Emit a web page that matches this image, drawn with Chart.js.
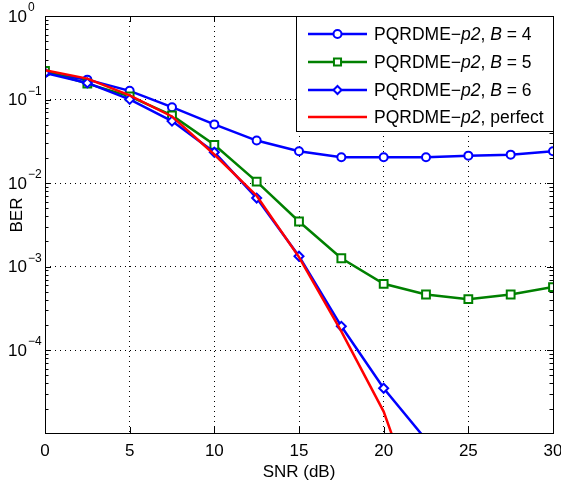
<!DOCTYPE html>
<html>
<head>
<meta charset="utf-8">
<script src="https://cdn.jsdelivr.net/npm/chart.js@4.4.1/dist/chart.umd.min.js"></script>
<style>
  html, body { margin: 0; padding: 0; background: #fff; }
  #wrap { width: 561px; height: 484px; }
</style>
</head>
<body>
<div id="wrap"><canvas id="myChart" width="561" height="484"></canvas></div>
<script>
// SNR axis values (dB)
let snr = [0, 2.5, 5, 7.5, 10, 12.5, 15, 17.5, 20, 22.5, 25, 27.5, 30];

// BER
let berB4 = [0.21, 0.173, 0.127, 0.081, 0.0504, 0.0323, 0.024, 0.0204, 0.0204, 0.0204, 0.0213, 0.0219, 0.024];
let berB5 = [0.22, 0.155, 0.109, 0.0646, 0.0287, 0.0104, 0.00347, 0.00126, 0.000623, 0.000464, 0.000408, 0.000464, 0.000569];
let berB6 = [0.208, 0.158, 0.1005, 0.0552, 0.0234, 0.00662, 0.00133, 0.000193, 0.000035, 0.0000085];
let berPerfect = [0.224, 0.178, 0.112, 0.0628, 0.022, 0.00706, 0.0013, 0.000168, 0.0000184, 0.0000007];

let labels = ['PQRDME\u2212p2, B = 4', 'PQRDME\u2212p2, B = 5', 'PQRDME\u2212p2, B = 6', 'PQRDME\u2212p2, perfect'];

let xTicks = [0, 5, 10, 15, 20, 25, 30];
let yTicks = [1, 0.1, 0.01, 0.001, 0.0001];
let yExp = ['0', '\u22121', '\u22122', '\u22123', '\u22124'];

let yMin = 1.02e-5, yMax = 1;
let FONT = '"Liberation Sans", Arial, Helvetica, sans-serif';

function pts(arr) {
    return arr.map((v, i) => ({ x: snr[i], y: v }));
}
function rad(r) {
    return c => (c.raw && c.raw.y < yMin) ? 0 : r;
}

// ticks, labels, box and legend drawn the matlab way
let matlabLook = {
    id: 'matlabLook',
    beforeDatasetsDraw(chart) {
        let ctx = chart.ctx, a = chart.chartArea;
        let xs = chart.scales.x, ys = chart.scales.y;
        ctx.save();
        ctx.strokeStyle = '#000';
        ctx.lineWidth = 1;
        ctx.beginPath();
        // minor y ticks
        for (let k = -5; k < 0; k++) {
            for (let m = 2; m <= 9; m++) {
                let v = m * Math.pow(10, k);
                if (v < yMin || v > yMax) continue;
                let py = Math.round(ys.getPixelForValue(v)) + 0.5;
                ctx.moveTo(a.left, py); ctx.lineTo(a.left + 3.5, py);
                ctx.moveTo(a.right, py); ctx.lineTo(a.right - 3.5, py);
            }
        }
        // major y ticks
        yTicks.forEach(v => {
            let py = Math.round(ys.getPixelForValue(v)) + 0.5;
            ctx.moveTo(a.left, py); ctx.lineTo(a.left + 6, py);
            ctx.moveTo(a.right, py); ctx.lineTo(a.right - 6, py);
        });
        // x ticks
        xTicks.forEach(v => {
            let px = Math.round(xs.getPixelForValue(v)) + 0.5;
            ctx.moveTo(px, a.bottom); ctx.lineTo(px, a.bottom - 6);
            ctx.moveTo(px, a.top); ctx.lineTo(px, a.top + 6);
        });
        ctx.stroke();
        ctx.restore();
    },
    afterDraw(chart) {
        let ctx = chart.ctx, a = chart.chartArea;
        let xs = chart.scales.x, ys = chart.scales.y;
        ctx.save();
        // axis box
        ctx.strokeStyle = '#000';
        ctx.lineWidth = 1;
        ctx.strokeRect(Math.round(a.left) + 0.5, Math.round(a.top) + 0.5,
            Math.round(a.right - a.left), Math.round(a.bottom - a.top));

        ctx.fillStyle = '#000';
        // x tick labels
        ctx.font = '17px ' + FONT;
        ctx.textAlign = 'center';
        ctx.textBaseline = 'middle';
        xTicks.forEach(v => ctx.fillText(String(v), xs.getPixelForValue(v), 451));
        ctx.fillText('SNR (dB)', (a.left + a.right) / 2, 472);

        // y tick labels 10^k
        yTicks.forEach((v, i) => {
            let py = ys.getPixelForValue(v);
            ctx.font = '17px ' + FONT;
            ctx.textAlign = 'right';
            ctx.fillText('10', 27, py + 1);
            ctx.font = '12px ' + FONT;
            ctx.textAlign = 'left';
            ctx.fillText(yExp[i], 28, py - 8);
        });

        // y title
        ctx.save();
        ctx.translate(17, 215);
        ctx.rotate(-Math.PI / 2);
        ctx.font = '17px ' + FONT;
        ctx.textAlign = 'center';
        ctx.fillText('BER', 0, 0);
        ctx.restore();

        // legend
        let lx = 296, ly = 16, lw = a.right - 296, lh = 115;
        ctx.fillStyle = '#fff';
        ctx.fillRect(lx, ly, lw, lh);
        ctx.strokeStyle = '#000';
        ctx.lineWidth = 1;
        ctx.strokeRect(lx + 0.5, ly + 0.5, lw, lh);
        let rows = [34, 62, 90, 117];
        chart.data.datasets.forEach((ds, i) => {
            let y = rows[i];
            ctx.strokeStyle = ds.borderColor;
            ctx.lineWidth = ds.borderWidth;
            ctx.beginPath();
            ctx.moveTo(308, y); ctx.lineTo(367, y);
            ctx.stroke();
            if (ds.pointStyle && ds.legendRadius) {
                ctx.fillStyle = '#fff';
                ctx.lineWidth = 2;
                Chart.helpers.drawPoint(ctx, {
                    pointStyle: ds.pointStyle, radius: ds.legendRadius, rotation: 0, borderWidth: 2
                }, 337.5, y);
            }
            // label with italic bits
            let parts = ds.label.split(/(p2|B)/);
            let x = 374;
            ctx.fillStyle = '#000';
            ctx.textAlign = 'left';
            ctx.textBaseline = 'middle';
            parts.forEach(p => {
                if (!p) return;
                let it = (p === 'p2' || p === 'B');
                ctx.font = (it ? 'italic ' : '') + '17.5px ' + FONT;
                ctx.fillText(p, x, y + 1);
                x += ctx.measureText(p).width;
            });
        });
        ctx.restore();
    }
};

let ctx = document.querySelector('#myChart').getContext('2d');
let myChart = new Chart(ctx, {
    type: 'line',
    data: {
        datasets: [{
            label: labels[0],
            data: pts(berB4),
            borderColor: '#0000ff',
            backgroundColor: '#ffffff',
            borderWidth: 2.5,
            pointStyle: 'circle',
            pointRadius: rad(4),
            pointBorderWidth: 2,
            legendRadius: 4,
            order: 3
        }, {
            label: labels[1],
            data: pts(berB5),
            borderColor: '#008000',
            backgroundColor: '#ffffff',
            borderWidth: 2.5,
            pointStyle: 'rect',
            pointRadius: rad(5.5),
            pointBorderWidth: 2,
            legendRadius: 5,
            order: 2
        }, {
            label: labels[2],
            data: pts(berB6),
            borderColor: '#0000ff',
            backgroundColor: '#ffffff',
            borderWidth: 2.5,
            pointStyle: 'rectRot',
            pointRadius: rad(4.5),
            pointBorderWidth: 2,
            legendRadius: 4,
            order: 1
        }, {
            label: labels[3],
            data: pts(berPerfect),
            borderColor: '#ff0000',
            backgroundColor: '#ff0000',
            borderWidth: 2.5,
            pointRadius: 0,
            order: 0
        }]
    },
    options: {
        responsive: false,
        animation: false,
        devicePixelRatio: 1,
        layout: { padding: { top: 16, right: 8, left: 0, bottom: 0 } },
        elements: { line: { tension: 0 } },
        scales: {
            x: {
                type: 'linear',
                min: 0,
                max: 30,
                afterFit: s => { s.height = 51; },
                afterBuildTicks: s => { s.ticks = xTicks.map(v => ({ value: v })); },
                ticks: { display: false },
                grid: { color: '#000', lineWidth: 1, drawTicks: false },
                border: { display: false, dash: [1, 4] }
            },
            y: {
                type: 'logarithmic',
                min: yMin,
                max: yMax,
                afterFit: s => { s.width = 45; },
                afterBuildTicks: s => { s.ticks = yTicks.map(v => ({ value: v })); },
                ticks: { display: false },
                grid: { color: '#000', lineWidth: 1, drawTicks: false },
                border: { display: false, dash: [1, 4] }
            }
        },
        plugins: {
            legend: { display: false },
            tooltip: { enabled: false }
        }
    },
    plugins: [matlabLook]
});
</script>
</body>
</html>
